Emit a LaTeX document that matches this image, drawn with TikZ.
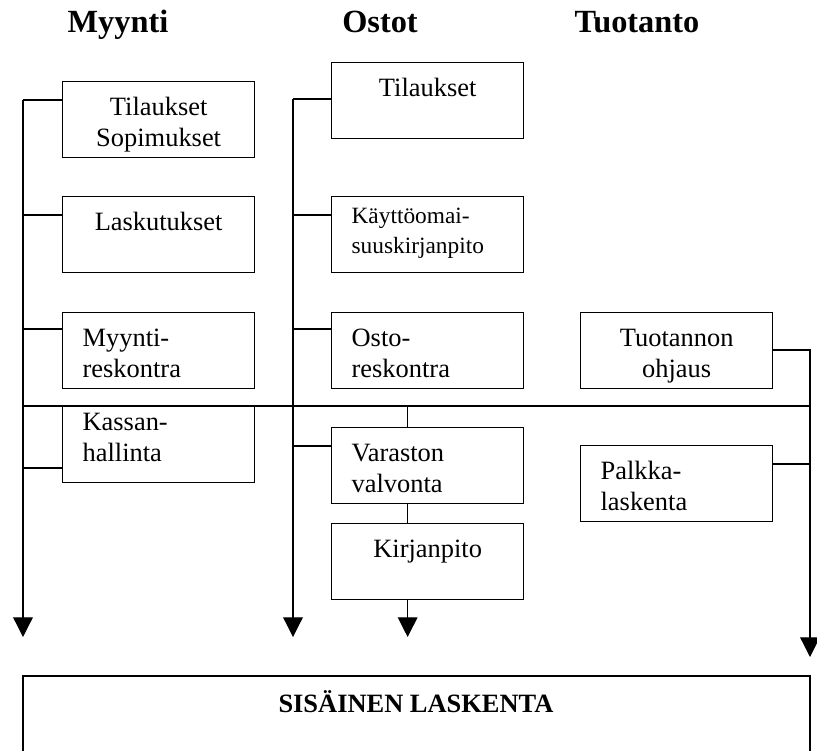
\documentclass[tikz,border=0pt]{standalone}
\usepackage{fontspec}
\setmainfont{Liberation Serif}
\usetikzlibrary{arrows.meta,calc}

\begin{document}
\begin{tikzpicture}[x=0.025cm,y=-0.025cm,line width=0.9pt,
  laatikko/.style={draw,anchor=north west,inner xsep=0.5cm,inner ysep=0pt,
    text width=3.8cm,align=center,text height=0.85cm,text depth=1.05cm,
    font=\fontsize{18.8}{22}\selectfont},
  vasen/.style={align=left},
  otsikko/.style={anchor=base,font=\bfseries\fontsize{23}{27}\selectfont},
  nuoli/.style={-{Triangle[width=14pt,length=14pt]}}]
\useasboundingbox (0,0) rectangle (817,751);

% Otsikot
\node[otsikko] (myynti) at (118,32) {Myynti};
\node[otsikko] (ostot) at (380,32) {Ostot};
\node[otsikko] (tuotanto) at (637,32) {Tuotanto};

% Myynti
\node[laatikko] (tilmyy) at (62,81) {Tilaukset\\Sopimukset};
\node[laatikko] (lasku) at (62,196) {Laskutukset};
\node[laatikko,vasen] (myyres) at (62,312) {Myynti-\\reskontra};
\node[laatikko,vasen,text height=0.6cm,text depth=1.3cm] (kassa) at (62,406) {Kassan-\\hallinta};

% Ostot
\node[laatikko] (tilost) at (331,62) {Tilaukset};
\node[laatikko,vasen,font=\fontsize{16.6}{21.3}\selectfont,text height=0.68cm,text depth=1.22cm] (kayt) at (331,196) {Käyttöomai-\\suuskirjanpito};
\node[laatikko,vasen] (ostres) at (331,312) {Osto-\\reskontra};
\node[laatikko,vasen] (varasto) at (331,427) {Varaston\\valvonta};
\node[laatikko] (kirja) at (331,523) {Kirjanpito};

% Tuotanto
\node[laatikko] (tuohj) at (580,312) {Tuotannon\\ohjaus};
\node[laatikko,vasen] (palkka) at (580,445) {Palkka-\\laskenta};

% Sisäinen laskenta
\draw (23,751) -- (23,676) -- (810,676) -- (810,751);
\node[anchor=base,font=\bfseries\fontsize{18.8}{22}\selectfont] (sisainen) at (416,712) {SISÄINEN LASKENTA};

% Rungot
\coordinate (myala) at (23,637);
\coordinate (osala) at (293,637);
\coordinate (tuala) at (810,657);

\foreach \b/\d in {tilmyy/19,lasku/19,myyres/17,kassa/62}{
  \path ($(\b.north west)+(0,\d)$) coordinate (\b-w);
  \draw (\b-w) -- (\b-w -| myala);
}
\draw[nuoli] (tilmyy-w -| myala) -- (myala);

\foreach \b/\d in {tilost/37,kayt/19,ostres/17,varasto/19}{
  \path ($(\b.north west)+(0,\d)$) coordinate (\b-w);
  \draw (\b-w) -- (\b-w -| osala);
}
\draw[nuoli] (tilost-w -| osala) -- (osala);

\path ($(tuohj.north east)+(0,38)$) coordinate (tuohj-e);
\path ($(palkka.north east)+(0,19)$) coordinate (palkka-e);
\draw[nuoli] (tuohj-e) -| (tuala);
\draw (palkka-e) -- (palkka-e -| tuala);

% Poikkiviiva
\draw (myala |- kassa.north) -- (tuala |- kassa.north);
\draw ([xshift=-0.5cm]varasto.north) -- ([xshift=-0.5cm]varasto.north |- kassa.north);
\draw ([xshift=-0.5cm]varasto.south) -- ([xshift=-0.5cm]kirja.north);
\draw[nuoli] ([xshift=-0.5cm]kirja.south) -- ([xshift=-0.5cm]kirja.south |- myala);

\end{tikzpicture}
\end{document}
